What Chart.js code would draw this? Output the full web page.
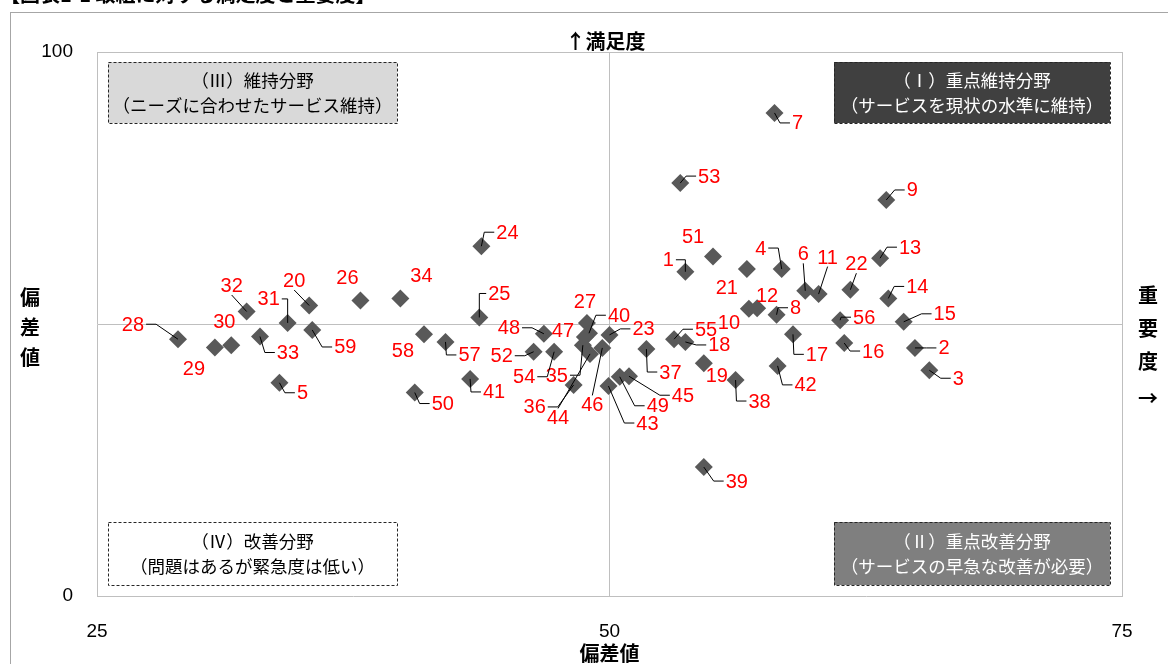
<!DOCTYPE html>
<html lang="ja">
<head>
<meta charset="utf-8">
<title>取組に対する満足度と重要度</title>
<script src="https://cdn.jsdelivr.net/npm/chart.js@4.4.1/dist/chart.umd.min.js"></script>
<style>
  html, body { margin: 0; padding: 0; background: #fff; }
  canvas { display: block; }
</style>
</head>
<body>
<canvas id="chart" width="1168" height="664"></canvas>
<script>
// item numbers, importance (x) and satisfaction (y) deviation values
const itemIds = [1, 2, 3, 4, 5, 6, 7, 8, 9, 10,
  11, 12, 13, 14, 15, 16, 17, 18, 19, 20,
  21, 22, 23, 24, 25, 26, 27, 28, 29, 30,
  31, 32, 33, 34, 35, 36, 37, 38, 39, 40,
  41, 42, 43, 44, 45, 46, 47, 48, 49, 50,
  51, 52, 53, 54, 55, 56, 57, 58, 59];
const importance = [53.7, 64.9, 65.6, 58.4, 33.9, 59.55, 58.05, 58.15, 63.5, 56.8,
  60.2, 57.2, 63.2, 63.6, 64.35, 61.45, 58.95, 53.7, 54.6, 35.35,
  56.7, 61.75, 50.0, 43.75, 43.65, 37.85, 48.9, 28.95, 30.75, 31.55,
  34.3, 32.3, 32.95, 39.8, 48.7, 48.25, 51.8, 56.15, 54.6, 49.0,
  43.2, 58.2, 49.95, 49.05, 50.95, 49.65, 48.8, 46.8, 50.5, 40.5,
  55.05, 46.3, 53.45, 47.3, 53.15, 61.25, 42.0, 40.95, 35.5];
const satisfaction = [59.6, 45.6, 41.5, 60.1, 39.2, 56.1, 88.8, 51.7, 72.8, 52.8,
  55.5, 52.9, 62.1, 54.7, 50.4, 46.5, 48.1, 46.7, 42.8, 53.4,
  60.1, 56.3, 48.0, 64.3, 51.2, 54.3, 50.2, 47.2, 45.7, 46.1,
  50.2, 52.3, 47.7, 54.7, 46.1, 38.8, 45.4, 39.7, 23.7, 48.3,
  39.9, 42.3, 38.6, 44.5, 40.4, 45.6, 47.6, 48.2, 40.3, 37.4,
  62.4, 44.9, 75.9, 44.9, 47.2, 50.7, 46.7, 48.1, 48.9];
const xTicks = [25, 50, 75];
const yTicks = [0, 100];

const chartTitle = '【図表1-1 取組に対する満足度と重要度】';
const quadrants = [
  { corner: 'tl', lines: ['（Ⅲ）維持分野', '（ニーズに合わせたサービス維持）'], fill: '#D9D9D9', text: '#000000' },
  { corner: 'tr', lines: ['（Ⅰ）重点維持分野', '（サービスを現状の水準に維持）'], fill: '#404040', text: '#FFFFFF' },
  { corner: 'bl', lines: ['（Ⅳ）改善分野', '（問題はあるが緊急度は低い）'], fill: '#FFFFFF', text: '#000000' },
  { corner: 'br', lines: ['（Ⅱ）重点改善分野', '（サービスの早急な改善が必要）'], fill: '#7F7F7F', text: '#FFFFFF' }
];

// where each data label sits relative to its marker (px)
const labelOffsets = {
  1: [-17, -12], 2: [29, 0], 3: [29, 8], 4: [-21, -21], 5: [23, 10], 6: [-2, -37], 7: [23, 10],
  8: [19, -7], 9: [26, -10], 10: [-20, 14], 11: [9, -37], 12: [10, -13], 13: [30, -11], 14: [29, -12],
  15: [41, -8], 16: [29, 8], 17: [24, 20], 18: [34, 3], 19: [13, 12], 20: [-15, -25], 21: [-20, 18],
  22: [6, -26], 23: [34, -6], 24: [26, -14], 25: [20, -24], 26: [-13, -23], 27: [-2, -21], 28: [-45, -15],
  29: [-21, 21], 30: [-7, -24], 31: [-19, -24], 32: [-15, -26], 33: [28, 16], 34: [21, -23], 35: [-26, 30],
  36: [-39, 22], 37: [24, 23], 38: [24, 21], 39: [33, 14], 40: [30, -18], 41: [24, 13], 42: [28, 19],
  43: [39, 37], 44: [-32, 64], 45: [54, 19], 46: [-10, 57], 47: [-22, -7], 48: [-35, -6], 49: [38, 29],
  50: [28, 11], 51: [-20, -20], 52: [-32, 4], 53: [29, -7], 54: [-30, 25], 55: [32, -10], 56: [24, -3],
  57: [24, 13], 58: [-21, 16], 59: [33, 17]
};
const noLeader = new Set([10, 12, 19, 21, 26, 27, 29, 30, 34, 47, 51, 58]);

const jpFont = '"Noto Sans CJK JP", sans-serif';
const numFont = '"Liberation Sans", Arial, sans-serif';

const decorPlugin = {
  id: 'decor',
  beforeDraw(chart) {
    const ctx = chart.ctx;
    ctx.save();
    ctx.fillStyle = '#FFFFFF';
    ctx.fillRect(0, 0, chart.width, chart.height);
    // outer chart frame
    ctx.strokeStyle = '#A6A6A6';
    ctx.lineWidth = 1;
    ctx.strokeRect(10.5, 12.5, chart.width + 20, chart.height + 20);
    // title, its top half is cut off
    ctx.fillStyle = '#000000';
    ctx.font = 'bold 20px ' + jpFont;
    ctx.textAlign = 'left';
    ctx.textBaseline = 'middle';
    ctx.fillText(chartTitle, 0, -6);
    ctx.restore();
  },
  beforeDatasetsDraw(chart) {
    const ctx = chart.ctx;
    const a = chart.chartArea;
    ctx.save();
    quadrants.forEach(q => {
      const w = q.corner[1] === 'l' ? 289 : 276;
      const h = q.corner[0] === 't' ? 61 : 63;
      const x = q.corner[1] === 'l' ? a.left + 11 : a.right - 12 - w;
      const y = q.corner[0] === 't' ? a.top + 10 : a.bottom - 11 - h;
      ctx.fillStyle = q.fill;
      ctx.fillRect(x, y, w, h);
      ctx.setLineDash([3, 2]);
      ctx.strokeStyle = '#262626';
      ctx.lineWidth = 1;
      ctx.strokeRect(Math.round(x) + 0.5, Math.round(y) + 0.5, w, h);
      ctx.setLineDash([]);
      ctx.fillStyle = q.text;
      ctx.font = '17.5px ' + jpFont;
      ctx.textAlign = 'center';
      ctx.textBaseline = 'middle';
      ctx.fillText(q.lines[0], x + w / 2, y + h / 2 - 12);
      ctx.fillText(q.lines[1], x + w / 2, y + h / 2 + 13);
    });
    ctx.restore();
  },
  afterDatasetsDraw(chart) {
    const ctx = chart.ctx;
    const a = chart.chartArea;
    const xs = chart.scales.x;
    const ys = chart.scales.y;
    ctx.save();
    // data labels with leader lines
    ctx.font = '20px ' + numFont;
    ctx.textAlign = 'center';
    ctx.textBaseline = 'middle';
    chart.getDatasetMeta(0).data.forEach((pt, i) => {
      const id = itemIds[i];
      const [dx, dy] = labelOffsets[id] || [24, 0];
      const lx = pt.x + dx, ly = pt.y + dy;
      const txt = String(id);
      const w = ctx.measureText(txt).width, h = 15;
      if (!noLeader.has(id)) {
        let ax, ay, sx, sy;
        if (Math.abs(dy) > Math.abs(dx) * 1.5) {
          ax = lx;
          ay = dy < 0 ? ly + h / 2 + 2 : ly - h / 2 - 2;
          sx = ax; sy = ay;
        } else {
          ax = dx > 0 ? lx - w / 2 - 2 : lx + w / 2 + 2;
          ay = ly;
          sx = dx > 0 ? Math.max(ax - 10, pt.x) : Math.min(ax + 10, pt.x);
          sy = ly;
        }
        ctx.strokeStyle = '#000000';
        ctx.lineWidth = 1;
        ctx.beginPath();
        ctx.moveTo(ax, ay);
        ctx.lineTo(sx, sy);
        ctx.lineTo(pt.x, pt.y);
        ctx.stroke();
      }
      ctx.fillStyle = '#FF0000';
      ctx.fillText(txt, lx, ly + 1);
    });

    // axis captions
    ctx.fillStyle = '#000000';
    ctx.font = 'bold 20px ' + jpFont;
    const cx = xs.getPixelForValue(50);
    ctx.fillText('↑満足度', cx - 4, a.top - 11);
    ctx.fillText('偏差値', cx, chart.height - 11);
    const cy = ys.getPixelForValue(50);
    ['偏', '差', '値'].forEach((c, k) => ctx.fillText(c, 30, cy - 27 + k * 30));
    ['重', '要', '度', '→'].forEach((c, k) => ctx.fillText(c, 1148, cy - 29 + k * 33 + (k === 3 ? 4 : 0)));
    ctx.restore();
  }
};

const gridColor = (maxVal) => (c) =>
  (c.tick.value === 50 || c.tick.value === maxVal) ? '#BFBFBF' : 'rgba(0,0,0,0)';

new Chart(document.getElementById('chart'), {
  type: 'scatter',
  data: {
    datasets: [{
      data: itemIds.map((id, i) => ({ x: importance[i], y: satisfaction[i] })),
      pointStyle: 'rectRot',
      pointRadius: 9,
      pointHoverRadius: 9,
      backgroundColor: '#595959',
      borderWidth: 0
    }]
  },
  options: {
    responsive: false,
    animation: false,
    events: [],
    layout: { padding: { left: 10, top: 52, right: 46, bottom: 0 } },
    plugins: {
      legend: { display: false },
      tooltip: { enabled: false },
      title: { display: false }
    },
    scales: {
      x: {
        type: 'linear',
        min: 25,
        max: 75,
        afterFit: (s) => { s.height = 68; },
        afterBuildTicks: (s) => { s.ticks = xTicks.map(v => ({ value: v })); },
        ticks: { padding: 24, color: '#000000', font: { size: 19, family: numFont } },
        grid: { color: gridColor(75), drawTicks: false, lineWidth: 1 },
        border: { color: '#BFBFBF' }
      },
      y: {
        type: 'linear',
        min: 0,
        max: 100,
        afterFit: (s) => { s.width = 87; },
        afterBuildTicks: (s) => { s.ticks = [0, 50, 100].map(v => ({ value: v })); },
        ticks: {
          padding: 24,
          color: '#000000',
          font: { size: 19, family: numFont },
          callback: (v) => yTicks.includes(v) ? String(v) : ''
        },
        grid: { color: gridColor(100), drawTicks: false, lineWidth: 1 },
        border: { color: '#BFBFBF' }
      }
    }
  },
  plugins: [decorPlugin]
});
</script>
</body>
</html>
